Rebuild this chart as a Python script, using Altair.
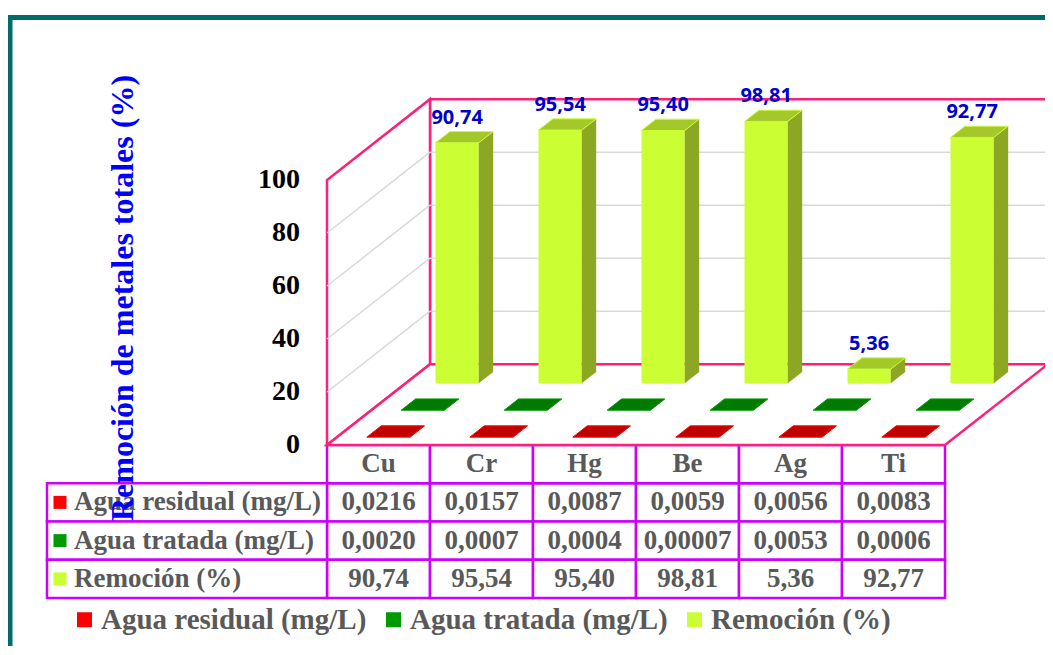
import altair as alt
import pandas as pd

# ---------------- data ----------------
metales = ["Cu", "Cr", "Hg", "Be", "Ag", "Ti"]
agua_residual = [0.0216, 0.0157, 0.0087, 0.0059, 0.0056, 0.0083]
agua_tratada = [0.0020, 0.0007, 0.0004, 0.00007, 0.0053, 0.0006]
remocion = [90.74, 95.54, 95.40, 98.81, 5.36, 92.77]
series = ["Agua residual (mg/L)", "Agua tratada (mg/L)", "Remoción (%)"]
y_ticks = [0, 20, 40, 60, 80, 100]
y_title = "Remoción de metales totales (%)"
header_key = "Metal"

# ---------------- styles ----------------
front_colors = ["#FF0000", "#009900", "#CCFF33"]
top_colors = ["#C00000", "#007A00", "#A4C82A"]
side_colors = ["#A00000", "#005A00", "#8BA724"]
legend_colors = ["#FF0000", "#009900", "#CCFF33"]
PINK = "#FF1F77"
MAGENTA = "#CC00FF"
GRAY_TXT = "#595959"
SERIF = "Liberation Serif"

W, H = 1037, 638
X_RANGE = [319, 937]       # front face of the 3D box, in px
Y_RANGE = [437, 172]
DX = 1.0                   # depth shift (column units)
DY = 30.5                  # depth shift (value units)
HW = 0.21                  # half bar width
HD = 0.07                  # half bar depth
N = len(metales)
NS = len(series)
YMAX = y_ticks[-1]

xs = alt.Scale(domain=[0, N], range=X_RANGE, nice=False, zero=False)
ys = alt.Scale(domain=[0, YMAX], range=Y_RANGE, nice=False, zero=False)


def fmt(v, d):
    return f"{v:.{d}f}".replace(".", ",")


valores = [agua_residual, agua_tratada, remocion]
rows = []
cells = []
for r, (name, vals) in enumerate(zip(series, valores)):
    for i, (m, v) in enumerate(zip(metales, vals)):
        d = 2 if r == NS - 1 else (4 if v >= 0.0001 else 5)
        rows.append({"serie": name, "r": r, "i": i, "metal": m, "v": v, "lab": fmt(v, d)})
        cells.append({"fila": name, "metal": m, "txt": fmt(v, d)})
for m in metales:
    cells.append({"fila": header_key, "metal": m, "txt": m})
bars = pd.DataFrame(rows)
tabla = pd.DataFrame(cells)
filas = [header_key] + series

X = lambda f: alt.X(f, scale=xs, axis=None)
Y = lambda f: alt.Y(f, scale=ys, axis=None)

# ---------------- frame ----------------
frame = alt.Chart(pd.DataFrame({"a": [0]})).mark_rect(
    fill="white", fillOpacity=0, stroke="#006B68", strokeWidth=5
).encode(x=alt.value(2), y=alt.value(9.5), x2=alt.value(1300), y2=alt.value(1000))

# ---------------- table ----------------
tx = alt.Scale(domain=metales, range=X_RANGE, paddingInner=0, paddingOuter=0)
ty = alt.Scale(domain=filas, range=[437, 590], paddingInner=0, paddingOuter=0)

cell_rect = alt.Chart(tabla).mark_rect(fill="white", stroke=MAGENTA, strokeWidth=2.5).encode(
    x=alt.X("metal:N", scale=tx, axis=None), y=alt.Y("fila:N", scale=ty, axis=None)
)
lab_rect = alt.Chart(pd.DataFrame({"fila": series})).mark_rect(
    fill="white", stroke=MAGENTA, strokeWidth=2.5
).encode(x=alt.value(39), x2=alt.value(319), y=alt.Y("fila:N", scale=ty, axis=None))
cell_txt = alt.Chart(tabla).mark_text(
    font=SERIF, fontWeight="bold", fontSize=27, color=GRAY_TXT, baseline="middle"
).encode(x=alt.X("metal:N", scale=tx, axis=None), y=alt.Y("fila:N", scale=ty, axis=None), text="txt:N")
lab_txt = alt.Chart(pd.DataFrame({"fila": series})).mark_text(
    font=SERIF, fontWeight="bold", fontSize=27, color=GRAY_TXT, align="left", baseline="middle"
).encode(x=alt.value(66), y=alt.Y("fila:N", scale=ty, axis=None), text="fila:N")
lab_sq = alt.Chart(pd.DataFrame({"fila": series})).mark_square(size=169, opacity=1).encode(
    x=alt.value(52),
    y=alt.Y("fila:N", scale=ty, axis=None),
    color=alt.Color(
        "fila:N",
        scale=alt.Scale(domain=series, range=legend_colors),
        legend=alt.Legend(
            title=None, orient="none", legendX=62, legendY=597, direction="horizontal",
            symbolType="square", symbolSize=225, symbolStrokeWidth=0,
            labelFont=SERIF, labelFontWeight="bold", labelFontSize=29, labelColor=GRAY_TXT,
            labelOffset=2, columnPadding=12, padding=0, labelLimit=600,
        ),
    ),
)

# ---------------- 3D box ----------------
dep = pd.DataFrame({"d": [0.0, 1.0]})
back_wall = alt.Chart(pd.DataFrame({"d": [1.0]})).transform_calculate(
    x0=f"datum.d*{DX}", x1=f"{N} + datum.d*{DX}", y0=f"datum.d*{DY}", y1=f"{YMAX} + datum.d*{DY}"
).mark_rect(fill="white", stroke=PINK, strokeWidth=2.5).encode(
    x=X("x0:Q"), x2="x1:Q", y=Y("y0:Q"), y2="y1:Q"
)
left_wall = alt.Chart(dep).transform_calculate(
    x0=f"datum.d*{DX}", y0=f"datum.d*{DY}", y1=f"{YMAX} + datum.d*{DY}"
).mark_area(fill="white", stroke=PINK, strokeWidth=2.5).encode(
    x=X("x0:Q"), y=Y("y0:Q"), y2="y1:Q"
)
floor = alt.Chart(dep).transform_calculate(
    x0=f"datum.d*{DX}", x1=f"{N} + datum.d*{DX}", y0=f"datum.d*{DY}"
).mark_area(orient="horizontal", fill="white", stroke=PINK, strokeWidth=2.5).encode(
    y=Y("y0:Q"), x=X("x0:Q"), x2="x1:Q"
)
grid_df = pd.DataFrame({"t": y_ticks[1:-1]})
grid_left = alt.Chart(grid_df).transform_calculate(
    x0="0", x1=f"{DX}", y1=f"datum.t + {DY}"
).mark_rule(color="#D9D9D9", strokeWidth=1.5).encode(
    x=X("x0:Q"), x2="x1:Q", y=Y("t:Q"), y2="y1:Q"
)
grid_back = alt.Chart(grid_df).transform_calculate(
    x0=f"{DX}", x1=f"{N} + {DX}", y1=f"datum.t + {DY}"
).mark_rule(color="#D9D9D9", strokeWidth=1.5).encode(
    x=X("x0:Q"), x2="x1:Q", y=Y("y1:Q"), y2="y1:Q"
)

# ---------------- bars ----------------
base = alt.Chart(bars).transform_calculate(
    dc=f"(datum.r + 0.5) / {NS}"
).transform_calculate(
    df=f"datum.dc - {HD}", db=f"datum.dc + {HD}"
)
ends = base.transform_calculate(e="[0, 1]").transform_flatten(["e"]).transform_calculate(
    d="datum.e == 0 ? datum.df : datum.db"
)

front = base.transform_calculate(
    x0=f"datum.i + 0.5 - {HW} + datum.df*{DX}",
    x1=f"datum.i + 0.5 + {HW} + datum.df*{DX}",
    y0=f"datum.df*{DY}",
    y1=f"datum.v + datum.df*{DY}",
).mark_rect().encode(
    x=X("x0:Q"), x2="x1:Q", y=Y("y0:Q"), y2="y1:Q",
    color=alt.Color("serie:N", scale=alt.Scale(domain=series, range=front_colors), legend=None),
)
side = ends.transform_calculate(
    xs_=f"datum.i + 0.5 + {HW} + datum.d*{DX}",
    y0=f"datum.d*{DY}",
    y1=f"datum.v + datum.d*{DY}",
).mark_area(opacity=1).encode(
    x=X("xs_:Q"), y=Y("y0:Q"), y2="y1:Q", detail="metal:N",
    color=alt.Color("serie:N", scale=alt.Scale(domain=series, range=side_colors), legend=None),
)
top = ends.transform_calculate(
    x0=f"datum.i + 0.5 - {HW} + datum.d*{DX}",
    x1=f"datum.i + 0.5 + {HW} + datum.d*{DX}",
    y1=f"datum.v + datum.d*{DY}",
).mark_area(orient="horizontal", opacity=1, strokeWidth=1).encode(
    y=Y("y1:Q"), x=X("x0:Q"), x2="x1:Q", detail="metal:N",
    color=alt.Color("serie:N", scale=alt.Scale(domain=series, range=top_colors), legend=None),
    stroke=alt.Stroke("serie:N", scale=alt.Scale(domain=series, range=front_colors), legend=None),
)
bar_lab = base.transform_filter(f"datum.r == {NS - 1}").transform_calculate(
    xl=f"datum.i + 0.5 + datum.df*{DX}", yl=f"datum.v + datum.db*{DY}"
).mark_text(
    font="Noto Sans", fontWeight="bold", fontSize=20, color="#0000CC", baseline="bottom", dy=-4
).encode(x=X("xl:Q"), y=Y("yl:Q"), text="lab:N")

# ---------------- axis labels ----------------
ticks = alt.Chart(pd.DataFrame({"t": y_ticks})).mark_text(
    font=SERIF, fontWeight="bold", fontSize=28, color="black", align="right", baseline="middle"
).encode(x=alt.value(292), y=Y("t:Q"), text="t:Q")
title = alt.Chart(pd.DataFrame({"t": [y_title]})).mark_text(
    font=SERIF, fontWeight="bold", fontSize=32, color="#0000FF", angle=270,
    align="center", baseline="middle"
).encode(x=alt.value(115), y=alt.value(290), text="t:N")

chart = alt.layer(
    frame, cell_rect, lab_rect, lab_sq, cell_txt, lab_txt,
    back_wall, left_wall, floor, grid_left, grid_back,
    front, side, top, bar_lab, ticks, title,
).resolve_scale(
    x="independent", y="independent", color="independent", stroke="independent"
).properties(
    width=W, height=H, autosize=alt.AutoSizeParams(type="none"), padding=0, background="white"
).configure_view(strokeWidth=0)

chart.save("out.html", embed_options={"renderer": "svg", "actions": False})
